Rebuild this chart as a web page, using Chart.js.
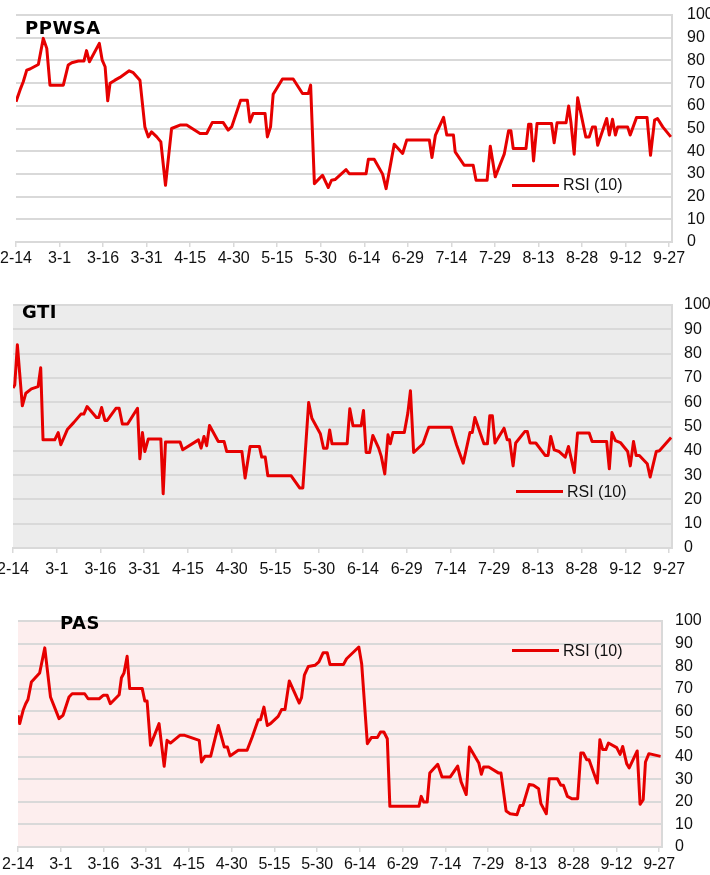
<!DOCTYPE html>
<html>
<head>
<meta charset="utf-8">
<script src="https://cdn.jsdelivr.net/npm/chart.js@4.4.0/dist/chart.umd.min.js"></script>
<style>
body { margin: 0; width: 710px; height: 875px; overflow: hidden; background: #fff; position: relative; font-family: "Liberation Sans", Arial, sans-serif; }
.box { position: absolute; left: 0; }
.ttl { position: absolute; font-family: "DejaVu Sans", Verdana, sans-serif; font-weight: bold; font-size: 18px; line-height: 18px; color: #000; letter-spacing: 0.5px; }
.lgline { position: absolute; height: 3px; width: 47px; background: #e60000; }
.lgtxt { position: absolute; font-size: 16px; line-height: 16px; color: #111; white-space: nowrap; }
</style>
</head>
<body>

<div class="box" id="b1" style="top:0px"><canvas id="c1" width="710" height="280"></canvas></div>
<div class="box" id="b2" style="top:290px"><canvas id="c2" width="710" height="290"></canvas></div>
<div class="box" id="b3" style="top:600px"><canvas id="c3" width="710" height="275"></canvas></div>

<div class="ttl" style="left:25px;top:19px">PPWSA</div>
<div class="ttl" style="left:22px;top:303px">GTI</div>
<div class="ttl" style="left:60px;top:614px">PAS</div>

<div class="lgline" style="left:512px;top:184px"></div>
<div class="lgtxt" style="left:563px;top:177px">RSI (10)</div>
<div class="lgline" style="left:516px;top:490px"></div>
<div class="lgtxt" style="left:567px;top:484px">RSI (10)</div>
<div class="lgline" style="left:512px;top:649px"></div>
<div class="lgtxt" style="left:563px;top:643px">RSI (10)</div>

<script>
// x axis: days counted from 2-14, one label every 15 days
var tickDays = [0, 15, 30, 45, 60, 75, 90, 105, 120, 135, 150, 165, 180, 195, 210, 225];
var tickLabels = ["2-14", "3-1", "3-16", "3-31", "4-15", "4-30", "5-15", "5-30", "6-14", "6-29", "7-14", "7-29", "8-13", "8-28", "9-12", "9-27"];
var seriesName = "RSI (10)";

var ppwsaDays = [0, 1.4, 2.5, 3.7, 4.8, 7.7, 9.4, 10.6, 11.7, 16.3, 18, 19.2, 21.5, 23.4, 24.3, 25.3, 28.7, 29.7, 30.7, 31.6, 32.4, 34.1, 35.8, 39, 40.4, 42.7, 44.4, 45.6, 46.7, 48.5, 49.9, 51.5, 53.6, 56.5, 58.8, 63.4, 65.7, 67.6, 71.4, 73.1, 74.3, 77.4, 79.7, 80.6, 81.7, 85.8, 86.6, 87.7, 88.6, 91.8, 95.5, 98.7, 100.7, 101.5, 102.8, 105.6, 107.6, 108.7, 109.9, 113.7, 114.8, 120.6, 121.4, 123.4, 126.3, 127.5, 130.3, 133.2, 134.6, 142.4, 143.3, 144.5, 147.3, 148.4, 150.7, 151.3, 154.4, 157.5, 158.5, 162.3, 163.4, 165.1, 168.2, 169.7, 170.5, 171.3, 175.7, 176.6, 177.4, 178.3, 179.5, 184.5, 185.4, 186.4, 189.5, 190.4, 191.2, 192.3, 193.5, 196.3, 197.5, 198.6, 199.6, 200.4, 203.5, 204.4, 205.5, 206.5, 207.3, 210.7, 211.6, 213.8, 217.4, 218.6, 220, 221, 222.8, 225.6];
var ppwsaRsi = [61.8, 67, 70.6, 75.7, 76.2, 78.2, 89.7, 85.3, 69.1, 69.1, 78, 79, 79.7, 79.7, 84.3, 79.4, 87.5, 80.1, 77.2, 62.2, 69.9, 71.3, 72.5, 75.4, 74.6, 71.3, 50.7, 46.3, 48.5, 46.3, 44.1, 25, 50, 51.5, 51.5, 47.8, 47.8, 52.6, 52.6, 49.3, 50.7, 62.5, 62.5, 52.9, 56.6, 56.6, 46.3, 50.7, 65.1, 71.8, 71.8, 65.4, 65.4, 69.1, 25.7, 29.4, 24, 27.2, 27.5, 31.9, 30.1, 30.1, 36.5, 36.5, 29.9, 23.5, 43.1, 39, 44.9, 44.9, 37.2, 47.1, 54.9, 47.1, 47.1, 39.7, 33.8, 33.8, 27.2, 27.2, 42.2, 28.7, 38.7, 49, 49, 41.2, 41.2, 51.9, 51.9, 35.7, 52.2, 52.2, 43.7, 52.5, 52.5, 59.9, 52.5, 38.7, 63.5, 46.3, 46.3, 50.7, 50.7, 42.6, 54.4, 47.1, 54.1, 47.1, 50.7, 50.7, 47.1, 54.9, 54.9, 38.2, 53.7, 54.4, 50.7, 46.3];

var gtiDays = [0, 0.6, 1.5, 3.2, 4.4, 6.3, 8.6, 9.5, 10.3, 14.3, 15.5, 16.4, 18.7, 20.8, 23.3, 24.3, 25.4, 28.6, 29.4, 30.4, 31.5, 32.3, 35.3, 36.4, 37.5, 39.3, 42.7, 43.5, 44.4, 45.2, 46.4, 50.7, 51.5, 52.3, 57.3, 58.2, 63.6, 64.5, 65.5, 66.4, 67.4, 70.4, 72.4, 73.3, 78.5, 79.6, 81.3, 84.5, 85.3, 86.5, 87.4, 95.4, 98.3, 99.4, 101.4, 102.5, 105.4, 106.5, 107.7, 108.6, 109.4, 114.6, 115.5, 116.6, 119.4, 120.2, 121.1, 122.3, 123.4, 125.4, 126.3, 127.5, 128.6, 129.4, 130.3, 134.2, 135.4, 136.3, 137.4, 140.6, 142.6, 150.3, 152.1, 154.4, 156.7, 157.5, 158.4, 161.5, 162.7, 163.5, 164.4, 165.3, 168.4, 169.5, 170.3, 171.5, 172.4, 175.5, 176.4, 177.3, 179.3, 182.5, 183.5, 184.4, 185.6, 187.3, 189.4, 190.5, 192.5, 193.6, 197.6, 198.6, 203.6, 204.5, 205.4, 206.6, 208.3, 210.8, 211.7, 212.8, 213.7, 214.8, 217.5, 218.5, 220.6, 221.7, 225.7];
var gtiRsi = [65.8, 67.1, 83.6, 58.5, 63.7, 65.5, 66.4, 74.2, 44.5, 44.5, 47.5, 42.5, 48.9, 51.6, 55.1, 55.1, 58.2, 53.7, 53.7, 57.8, 52.5, 52.5, 57.5, 57.5, 51, 51, 57.5, 36.7, 47.5, 39.7, 44.9, 44.9, 22.3, 43.6, 43.6, 40.4, 44.5, 41.1, 45.9, 42.1, 50.4, 43.8, 43.8, 39.7, 39.7, 28.8, 41.8, 41.8, 37.4, 37.4, 29.7, 29.7, 24.7, 24.7, 59.9, 53.4, 47, 41.1, 41.1, 48.6, 42.9, 42.9, 57.3, 50.3, 50.3, 56.6, 39.3, 39.3, 46.3, 41.1, 37.7, 30.5, 46.6, 42.9, 47.5, 47.5, 55.5, 64.7, 39.3, 42.9, 49.7, 49.7, 42.5, 34.9, 47.5, 47.5, 53.7, 42.9, 42.9, 54.4, 54.4, 43.2, 49.3, 44.5, 44.5, 33.8, 43.2, 47.9, 47.9, 43.2, 43.2, 38.1, 38.1, 45.9, 40.4, 39.7, 37.4, 41.8, 31.1, 47.3, 47.3, 43.8, 43.8, 32.6, 47.5, 44.2, 43.4, 39.7, 33.8, 43.8, 38.1, 38.1, 34.7, 29.2, 39.7, 40, 45.5];

var pasDays = [0, 0.6, 1.8, 2.7, 3.5, 4.7, 7.6, 9.4, 11.4, 14.4, 15.8, 17.9, 19, 23.4, 24.6, 28.5, 29.9, 31.3, 32.4, 35.5, 36.3, 37.2, 38.3, 39.2, 43.6, 44.5, 45.3, 46.5, 49.5, 51.3, 52.3, 53.5, 56.8, 58.5, 63.6, 64.4, 65.6, 67.6, 70.3, 72.4, 73.5, 74.4, 77.3, 80.4, 82.2, 84.3, 85.1, 86.3, 87.5, 88.6, 91.3, 92.5, 93.7, 95.2, 98.7, 99.5, 100.5, 101.9, 104.2, 105.6, 107.1, 108.5, 109.5, 114.2, 115.3, 119.6, 120.6, 122.6, 124, 126.1, 127.2, 128.4, 129.6, 130.5, 140.7, 141.5, 142.4, 143.6, 144.5, 147.3, 148.8, 151.7, 154.3, 155.5, 157.3, 158.4, 161.7, 162.6, 163.4, 165.2, 168.7, 169.5, 171.3, 172.7, 175.1, 176.2, 177.2, 179.4, 180.9, 182.7, 183.5, 185.4, 186.4, 189.3, 190.5, 191.4, 192.8, 194.3, 196.4, 197.5, 198.4, 199.6, 200.4, 203.3, 204.2, 205.2, 206.3, 207.2, 210.1, 211.3, 212.2, 213.6, 214.5, 217.3, 218.3, 219.4, 220.2, 221.4, 225.5];
var pasRsi = [58.3, 54.6, 60.5, 63.4, 65.3, 73, 77, 88.1, 66.4, 56.8, 58.3, 66.4, 67.8, 67.8, 65.6, 65.6, 67.1, 67.1, 63.4, 67.4, 74.9, 77, 84.4, 70.1, 70.1, 64.6, 64.6, 45, 54.6, 35.7, 47.2, 46, 49.4, 49.4, 47.2, 37.6, 40.1, 40.1, 53.8, 44.2, 44.2, 40.3, 42.8, 42.8, 48.7, 56.3, 56.3, 61.9, 53.8, 54.6, 57.8, 60.8, 60.8, 73.5, 63.7, 66.1, 76, 79.9, 80.4, 81.9, 86, 86, 80.7, 80.7, 83.3, 88.5, 81.1, 45.7, 48.4, 48.4, 50.9, 50.9, 47.9, 18, 18, 22.4, 19.9, 19.9, 32.7, 36.6, 31, 31, 35.8, 28.8, 23.2, 44.2, 37.2, 32.2, 35.4, 35.4, 32.7, 32.7, 15.9, 14.7, 14.3, 18.4, 18.4, 27.7, 27.3, 25.8, 19.2, 14.7, 30.2, 30.2, 27.3, 27.3, 22.4, 21.4, 21.4, 41.6, 41.6, 38.6, 38.6, 28.3, 47.5, 43.1, 43.1, 46, 44, 41, 44.5, 36.9, 35, 42.5, 18.9, 20.9, 37.6, 41.3, 40.1];

// fills the plot area (grey / pink panels)
var plotBg = {
	id: 'plotBg',
	beforeDraw: function(chart, args, opts) {
		if (!opts.color) return;
		var a = chart.chartArea;
		var ctx = chart.ctx;
		ctx.save();
		ctx.fillStyle = opts.color;
		ctx.fillRect(a.left, a.top, a.right - a.left, a.bottom - a.top);
		ctx.restore();
	}
};

var tickFont = { family: 'Liberation Sans', size: 16 };

function drawRsi(canvasId, days, values, lay) {
	var pts = [];
	for (var i = 0; i < days.length; i++) {
		pts.push({ x: days[i], y: values[i] });
	}
	return new Chart(document.getElementById(canvasId), {
		type: 'line',
		data: {
			datasets: [{
				label: seriesName,
				data: pts,
				borderColor: '#e60000',
				borderWidth: 3,
				borderJoinStyle: 'round',
				pointRadius: 0,
				tension: 0,
				fill: false
			}]
		},
		plugins: [plotBg],
		options: {
			responsive: false,
			animation: false,
			layout: { padding: { left: lay.left, top: lay.top, right: 0, bottom: lay.bottom } },
			plugins: {
				legend: { display: false },
				tooltip: { enabled: false },
				plotBg: { color: lay.bg }
			},
			scales: {
				x: {
					type: 'linear',
					min: 0,
					max: 226,
					afterBuildTicks: function(ax) {
						ax.ticks = tickDays.map(function(v) { return { value: v }; });
					},
					afterFit: function(ax) {
						ax.paddingLeft = 0;
						ax.paddingRight = 0;
						ax.height = lay.xh;
					},
					grid: { drawOnChartArea: false, drawTicks: true, tickLength: 5, color: '#d9d9d9', lineWidth: 1.5 },
					border: { color: '#d9d9d9', width: 2 },
					ticks: {
						autoSkip: false,
						maxRotation: 0,
						padding: lay.xpad,
						color: '#111',
						font: tickFont,
						callback: function(v) { return tickLabels[tickDays.indexOf(v)]; }
					}
				},
				y: {
					position: 'right',
					min: 0,
					max: 100,
					afterFit: function(ax) {
						ax.width = lay.yw;
						ax.paddingTop = 0;
						ax.paddingBottom = 0;
					},
					grid: { color: '#d9d9d9', lineWidth: 2, drawTicks: false },
					border: { color: '#d9d9d9', width: 2 },
					ticks: { stepSize: 10, padding: lay.ypad, color: '#111', font: tickFont }
				}
			}
		}
	});
}

drawRsi('c1', ppwsaDays, ppwsaRsi, { left: 16, top: 15, bottom: 8, xh: 30, xpad: 2, yw: 38, ypad: 15, bg: null });
drawRsi('c2', gtiDays, gtiRsi, { left: 13, top: 15, bottom: 2, xh: 30, xpad: 7, yw: 38, ypad: 12, bg: '#ececec' });
drawRsi('c3', pasDays, pasRsi, { left: 18, top: 21, bottom: 2, xh: 26, xpad: 3, yw: 48, ypad: 13, bg: '#fdeeee' });
</script>
</body>
</html>
